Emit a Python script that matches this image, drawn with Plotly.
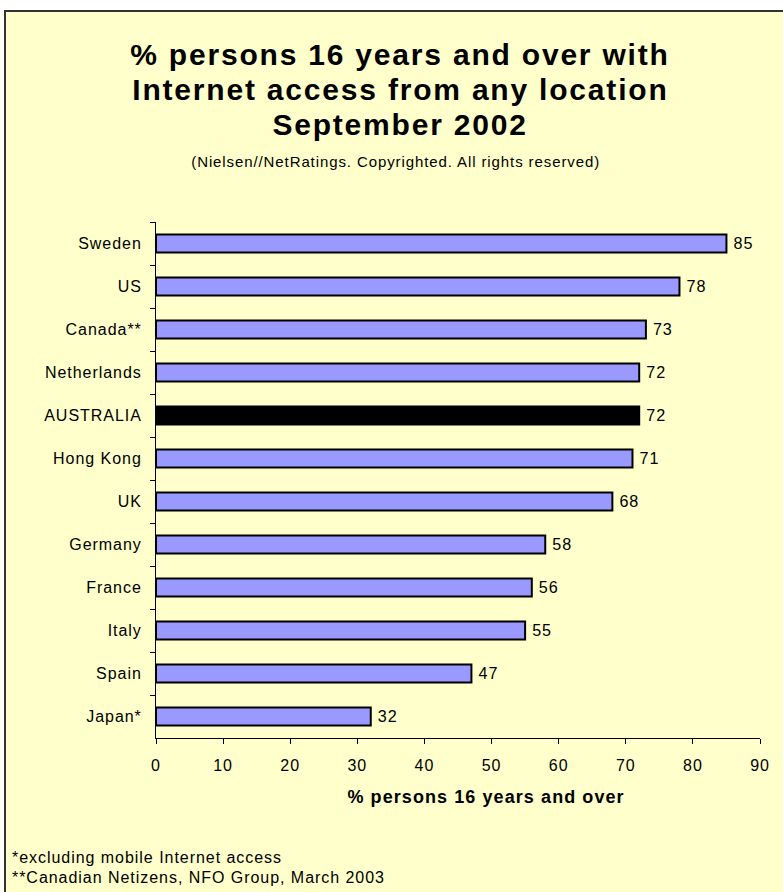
import plotly.graph_objects as go

# data
countries = ["Sweden", "US", "Canada**", "Netherlands", "AUSTRALIA", "Hong Kong",
             "UK", "Germany", "France", "Italy", "Spain", "Japan*"]
values = [85, 78, 73, 72, 72, 71, 68, 58, 56, 55, 47, 32]
highlight = "AUSTRALIA"
x_ticks = [0, 10, 20, 30, 40, 50, 60, 70, 80, 90]

title_lines = ["% persons 16 years and over with",
               "Internet access from any location",
               "September 2002"]
subtitle = "(Nielsen//NetRatings. Copyrighted. All rights reserved)"
x_title = "% persons 16 years and over"
footnotes = ["*excluding mobile Internet access",
             "**Canadian Netizens, NFO Group, March 2003"]

W, H = 783, 892
L, R, T, B = 156, 23, 222, 154
pw, ph = W - L - R, H - T - B

def px_x(p):
	return (p - L) / pw

def px_y(p):
	return (H - B - p) / ph

bar_colors = ["#000000" if c == highlight else "#9999FF" for c in countries]

fig = go.Figure()
fig.add_trace(go.Bar(
	x=values,
	y=countries,
	orientation="h",
	width=0.42,
	marker=dict(color=bar_colors, line=dict(color="#000000", width=2)),
	text=[" %d" % v for v in values],
	textposition="outside",
	textfont=dict(size=17, color="#000000"),
	cliponaxis=False,
))

font_main = "Arial, Liberation Sans, sans-serif"

# yellow panel with border (right and bottom edges run off the page)
fig.add_shape(
	type="rect", xref="paper", yref="paper",
	x0=px_x(5), x1=px_x(800), y0=px_y(920), y1=px_y(11),
	fillcolor="#FFFFCC", line=dict(color="#333333", width=2), layer="below",
)

annotations = []
for i, line in enumerate(title_lines):
	annotations.append(dict(
		text="<b>%s</b>" % line, xref="paper", yref="paper",
		x=px_x(400), y=px_y(54 + i * 35), xanchor="center", yanchor="middle",
		showarrow=False, font=dict(size=30, color="#000000", family=font_main),
	))
annotations.append(dict(
	text=subtitle, xref="paper", yref="paper",
	x=px_x(395), y=px_y(161), xanchor="center", yanchor="middle",
	showarrow=False, font=dict(size=15, color="#000000", family=font_main),
))
annotations.append(dict(
	text="<b>%s</b>" % x_title, xref="paper", yref="paper",
	x=px_x(486), y=px_y(797), xanchor="center", yanchor="middle",
	showarrow=False, font=dict(size=18, color="#000000", family=font_main),
))
for i, line in enumerate(footnotes):
	annotations.append(dict(
		text=line, xref="paper", yref="paper", align="left",
		x=px_x(10), y=px_y(857 + i * 20), xanchor="left", yanchor="middle",
		showarrow=False, font=dict(size=16, color="#000000", family=font_main),
	))

fig.update_layout(
	width=W,
	height=H,
	margin=dict(l=L, r=R, t=T, b=B, autoexpand=False),
	paper_bgcolor="#FFFFFF",
	plot_bgcolor="rgba(0,0,0,0)",
	showlegend=False,
	font=dict(family=font_main, size=17, color="#000000"),
	annotations=annotations,
	xaxis=dict(
		range=[0, 90], tickvals=x_ticks, showgrid=False, zeroline=False,
		showline=True, linecolor="#000000", linewidth=1,
		ticks="outside", ticklen=5, tickcolor="#000000",
		tickfont=dict(size=16, color="#000000"), ticklabelstandoff=8,
	),
	yaxis=dict(
		autorange="reversed", showgrid=False, zeroline=False,
		showline=True, linecolor="#000000", linewidth=1,
		ticks="outside", ticklen=5, tickcolor="#000000", tickson="boundaries",
		tickfont=dict(size=16, color="#000000"), ticklabelstandoff=10,
	),
)

# no default body margin, and the wide letter spacing of the original
post = (
	"document.body.style.margin='0';"
	"var s=document.createElement('style');"
	"s.textContent='.main-svg text{letter-spacing:0.06em}';"
	"document.head.appendChild(s);"
)
fig.write_html("out.html", config={"displayModeBar": False}, post_script=post)
